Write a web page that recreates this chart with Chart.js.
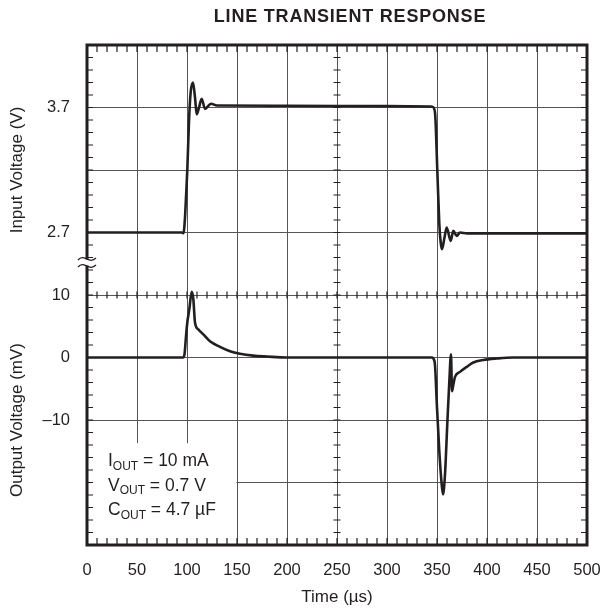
<!DOCTYPE html>
<html>
<head>
<meta charset="utf-8">
<script src="https://cdn.jsdelivr.net/npm/chart.js@4"></script>
<style>
  html, body { margin: 0; padding: 0; background: #fff; }
  #wrap { width: 603px; height: 612px; }
</style>
</head>
<body>
<div id="wrap"><canvas id="chart"></canvas></div>
<script>
const ctx = document.querySelector("#chart");

const INK = '#231f20';
const FONT = "'Liberation Sans', Arial, sans-serif";

// input voltage trace (V) vs time (us)
const inTime = [0, 95, 96.5, 98, 99, 100.3, 102, 103.7, 106, 108, 109.7, 112, 114.7, 118, 121, 124, 130, 200, 300, 344, 345.7, 348, 350.3, 352.3, 353.7, 355, 357.5, 359.7, 363.7, 366.3, 369.7, 373, 380, 500];
const inVolts = [2.7, 2.7, 2.695, 2.82, 2.98, 3.2, 3.59, 3.825, 3.9, 3.78, 3.645, 3.7, 3.77, 3.69, 3.71, 3.73, 3.716, 3.714, 3.711, 3.708, 3.705, 3.66, 3.2, 2.77, 2.62, 2.567, 2.66, 2.74, 2.633, 2.713, 2.673, 2.7, 2.693, 2.693];

// output voltage deviation (mV) vs time (us)
const outTime = [0, 96, 97.5, 99, 100.3, 102.3, 104.7, 106.3, 108, 111.3, 116.3, 123, 133, 143, 153, 166, 180, 200, 345, 346.5, 348, 349.7, 352.3, 354.7, 356, 358, 360.3, 362.3, 364, 365, 366.3, 368, 373, 379.7, 386.3, 396.3, 409.7, 426, 500];
const outMv = [0, 0, 0.5, 3.4, 5.6, 7.7, 10.5, 9.4, 5.6, 4.5, 3.7, 2.6, 1.7, 1.0, 0.6, 0.3, 0.15, 0, 0, -0.2, -1.2, -7, -15, -20.3, -21.9, -18.7, -10.6, -3.9, 0.5, -5.4, -4.4, -3.1, -2.3, -1.5, -0.8, -0.4, -0.16, 0, 0];

// axis ticks
const inGrid = [2.2, 2.7, 3.2, 3.7, 4.2];
const inLabels = [2.7, 3.7];
const outGrid = [-30, -20, -10, 0, 10];
const outLabels = [10, 0, -10];

const toPoints = (xs, ys) => xs.map((x, i) => ({ x: x, y: ys[i] }));

// frame, minor ticks, note box, axis break
const decor = {
    id: 'decor',
    beforeDatasetsDraw(chart) {
        const { ctx, chartArea: a, scales } = chart;
        const x = scales.x, yIn = scales.yIn, yOut = scales.yOut;
        ctx.save();
        ctx.fillStyle = '#fff';
        const boxTop = yOut.getPixelForValue(-13.7);
        ctx.fillRect(a.left, boxTop, x.getPixelForValue(150) - 0.5 - a.left, a.bottom - boxTop);

        ctx.strokeStyle = INK;
        ctx.lineWidth = 1.2;
        ctx.beginPath();
        const midY = yOut.getPixelForValue(10);
        const midX = x.getPixelForValue(250);
        for (let t = 0; t <= 500; t += 10) {
            const px = x.getPixelForValue(t);
            ctx.moveTo(px, a.top); ctx.lineTo(px, a.top + 7);
            ctx.moveTo(px, a.bottom); ctx.lineTo(px, a.bottom - 7);
            ctx.moveTo(px, midY - 3.5); ctx.lineTo(px, midY + 3.5);
        }
        const ys = [];
        for (let v = 2.2; v <= 4.21; v += 0.1) ys.push(yIn.getPixelForValue(v));
        for (let v = -30; v <= 10; v += 2) ys.push(yOut.getPixelForValue(v));
        ys.forEach(py => {
            ctx.moveTo(a.left, py); ctx.lineTo(a.left + 6, py);
            ctx.moveTo(a.right, py); ctx.lineTo(a.right - 6, py);
            ctx.moveTo(midX - 3.5, py); ctx.lineTo(midX + 3.5, py);
        });
        ctx.stroke();
        ctx.restore();
    },
    afterDatasetsDraw(chart) {
        const { ctx, chartArea: a, scales } = chart;
        ctx.save();
        ctx.strokeStyle = INK;
        ctx.lineWidth = 3;
        ctx.strokeRect(a.left, a.top, a.right - a.left, a.bottom - a.top);

        // axis break mark on the left border
        const by = scales.yIn.getPixelForValue(2.46);
        ctx.fillStyle = '#fff';
        ctx.fillRect(a.left - 3, by - 3, 6, 6);
        ctx.lineWidth = 1.3;
        ctx.beginPath();
        [-3.5, 3.5].forEach(d => {
            const yy = by + d;
            ctx.moveTo(a.left - 9, yy + 1);
            ctx.bezierCurveTo(a.left - 3, yy - 6, a.left + 2, yy + 6, a.left + 9, yy - 1);
        });
        ctx.stroke();

        // title
        ctx.fillStyle = INK;
        ctx.font = "bold 18px " + FONT;
        ctx.letterSpacing = '0.8px';
        ctx.textAlign = 'center';
        ctx.textBaseline = 'middle';
        ctx.fillText('LINE TRANSIENT RESPONSE', 350, 17);
        ctx.letterSpacing = '0px';

        // test conditions
        ctx.textAlign = 'left';
        ctx.textBaseline = 'alphabetic';
        const note = [['I', ' = 10 mA'], ['V', ' = 0.7 V'], ['C', ' = 4.7 \u00b5F']];
        note.forEach((n, i) => {
            const base = 466 + i * 24.5;
            let px = 108;
            ctx.font = "17.5px " + FONT;
            ctx.fillText(n[0], px, base);
            px += ctx.measureText(n[0]).width;
            ctx.font = "12px " + FONT;
            ctx.fillText('OUT', px, base + 3.5);
            px += ctx.measureText('OUT').width;
            ctx.font = "17.5px " + FONT;
            ctx.fillText(n[1], px, base);
        });
        ctx.restore();
    }
};

const gridStyle = { color: '#555', lineWidth: 1, drawTicks: false };
const tickFont = { family: FONT, size: 16.5 };
const titleFont = { family: FONT, size: 17 };

const config = {
    type: 'line',
    data: {
        datasets: [
            {
                label: 'Input Voltage',
                data: toPoints(inTime, inVolts),
                yAxisID: 'yIn',
                borderColor: INK,
                borderWidth: 2.6,
                pointRadius: 0,
                clip: 8,
                cubicInterpolationMode: 'monotone',
            },
            {
                label: 'Output Voltage',
                data: toPoints(outTime, outMv),
                yAxisID: 'yOut',
                borderColor: INK,
                borderWidth: 2.6,
                pointRadius: 0,
                clip: 8,
                cubicInterpolationMode: 'monotone',
            },
        ],
    },
    options: {
        responsive: true,
        maintainAspectRatio: false,
        animation: false,
        layout: { padding: { top: 45, right: 16, left: 0, bottom: 0 } },
        plugins: {
            legend: { display: false },
            tooltip: { enabled: false },
        },
        scales: {
            x: {
                type: 'linear',
                min: 0,
                max: 500,
                grid: gridStyle,
                border: { display: false },
                ticks: {
                    stepSize: 50,
                    padding: 16,
                    color: INK,
                    font: tickFont,
                },
                title: {
                    display: true,
                    text: 'Time (\u00b5s)',
                    color: INK,
                    font: titleFont,
                    padding: { top: 4, bottom: 4 },
                },
                afterFit: s => { s.height = 67; s.paddingLeft = 0; s.paddingRight = 0; },
            },
            yOut: {
                type: 'linear',
                position: 'left',
                stack: 'panels',
                stackWeight: 1,
                min: -30,
                max: 10,
                grid: gridStyle,
                border: { display: false },
                afterBuildTicks: s => { s.ticks = outGrid.map(v => ({ value: v })); },
                ticks: {
                    padding: 17,
                    color: INK,
                    font: tickFont,
                    callback: v => outLabels.includes(v) ? (v < 0 ? '\u2013' + Math.abs(v) : String(v)) : '',
                },
                title: {
                    display: true,
                    text: 'Output Voltage (mV)',
                    color: INK,
                    font: titleFont,
                    padding: { top: 7, bottom: 7 },
                },
                afterFit: s => { s.width = 87; },
            },
            yIn: {
                type: 'linear',
                position: 'left',
                stack: 'panels',
                stackWeight: 1,
                min: 2.2,
                max: 4.2,
                grid: gridStyle,
                border: { display: false },
                afterBuildTicks: s => { s.ticks = inGrid.map(v => ({ value: v })); },
                ticks: {
                    padding: 17,
                    color: INK,
                    font: tickFont,
                    callback: v => inLabels.some(l => Math.abs(l - v) < 1e-6) ? v.toFixed(1) : '',
                },
                title: {
                    display: true,
                    text: 'Input Voltage (V)',
                    color: INK,
                    font: titleFont,
                    padding: { top: 7, bottom: 7 },
                },
                afterFit: s => { s.width = 87; },
            },
        },
    },
    plugins: [decor],
};

new Chart(ctx, config);
</script>
</body>
</html>
